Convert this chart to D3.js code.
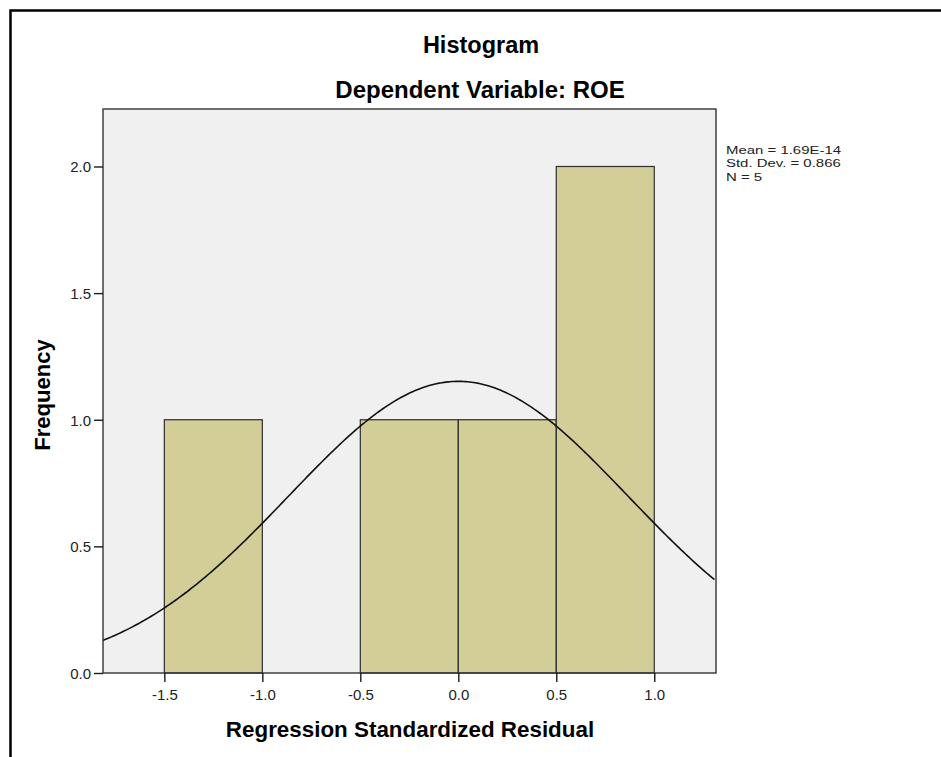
<!DOCTYPE html>
<html>
<head>
<meta charset="utf-8">
<script src="https://cdn.jsdelivr.net/npm/d3@7"></script>
<style>
  body { margin: 0; background: #fff; }
  svg { display: block; font-family: "Liberation Sans", Arial, sans-serif; }
</style>
</head>
<body>
<svg id="chart" width="941" height="757"></svg>
<script>
// bins of the regression standardized residual
const binStarts = [-1.5, -1.0, -0.5, 0.0, 0.5];
const binWidth = 0.5;
const counts = [1, 0, 1, 1, 2];

const xTicks = [-1.5, -1.0, -0.5, 0.0, 0.5, 1.0];
const yTicks = [0.0, 0.5, 1.0, 1.5, 2.0];

const stats = {mean: 1.69e-14, sd: 0.866, n: 5};
const legendLines = ["Mean = 1.69E-14", "Std. Dev. = 0.866", "N = 5"];

const svg = d3.select("#chart");

// outer frame of the output viewer
svg.append("path")
    .attr("d", "M10.5,757 V10.5 H941")
    .attr("fill", "none")
    .attr("stroke", "#000")
    .attr("stroke-width", 2.5);

const plot = {left: 103, top: 109, right: 716, bottom: 673};

const x = d3.scaleLinear().domain([-1.813, 1.315]).range([plot.left, plot.right]);
const y = d3.scaleLinear().domain([0, 2.227]).range([plot.bottom, plot.top]);

svg.append("rect")
    .attr("x", plot.left)
    .attr("y", plot.top)
    .attr("width", plot.right - plot.left)
    .attr("height", plot.bottom - plot.top)
    .attr("fill", "#f0f0f0");

const bins = binStarts.map((s, i) => ({x0: s, x1: s + binWidth, n: counts[i]}));

svg.append("g")
    .selectAll("rect")
    .data(bins.filter(d => d.n > 0))
    .join("rect")
    .attr("x", d => x(d.x0))
    .attr("y", d => y(d.n))
    .attr("width", d => x(d.x1) - x(d.x0))
    .attr("height", d => y(0) - y(d.n))
    .attr("fill", "#d3ce97")
    .attr("stroke", "#2e2e2e")
    .attr("stroke-width", 1.2);

// normal curve scaled to the counts
const density = v => stats.n * binWidth / (stats.sd * Math.sqrt(2 * Math.PI))
    * Math.exp(-0.5 * Math.pow((v - stats.mean) / stats.sd, 2));
const curvePts = d3.range(x.domain()[0], x.domain()[1] + 0.001, 0.01);

svg.append("path")
    .datum(curvePts)
    .attr("fill", "none")
    .attr("stroke", "#111")
    .attr("stroke-width", 1.6)
    .attr("d", d3.line().x(d => x(d)).y(d => y(density(d))));

svg.append("rect")
    .attr("x", plot.left)
    .attr("y", plot.top)
    .attr("width", plot.right - plot.left)
    .attr("height", plot.bottom - plot.top)
    .attr("fill", "none")
    .attr("stroke", "#333")
    .attr("stroke-width", 1.4);

const fmt = d => d3.format(".1f")(d).replace("−", "-");

const xAxis = svg.append("g")
    .attr("transform", `translate(0,${plot.bottom})`)
    .call(d3.axisBottom(x).tickValues(xTicks).tickFormat(fmt).tickSize(9).tickSizeOuter(0));

const yAxis = svg.append("g")
    .attr("transform", `translate(${plot.left},0)`)
    .call(d3.axisLeft(y).tickValues(yTicks).tickFormat(fmt).tickSize(9).tickSizeOuter(0));

[xAxis, yAxis].forEach(a => {
    a.attr("font-size", null).attr("font-family", null);
    a.select(".domain").remove();
    a.selectAll("line").attr("stroke", "#1a1a1a").attr("stroke-width", 1.4);
    a.selectAll("text")
        .style("font-family", "'Liberation Sans', Arial, sans-serif")
        .style("font-size", "15px")
        .attr("fill", "#222");
});
xAxis.selectAll("text").attr("y", 16).attr("dy", "0.71em");
yAxis.selectAll("text").attr("x", -12).attr("dy", "0.36em");

// titles
svg.append("text")
    .attr("x", 481).attr("y", 53)
    .attr("text-anchor", "middle")
    .attr("font-size", 23.5).attr("font-weight", "bold")
    .text("Histogram");

svg.append("text")
    .attr("x", 480).attr("y", 98)
    .attr("text-anchor", "middle")
    .attr("font-size", 24).attr("font-weight", "bold")
    .text("Dependent Variable: ROE");

svg.append("text")
    .attr("x", 410).attr("y", 737)
    .attr("text-anchor", "middle")
    .attr("font-size", 22.4).attr("font-weight", "bold")
    .text("Regression Standardized Residual");

svg.append("text")
    .attr("transform", "translate(50,395) rotate(-90)")
    .attr("text-anchor", "middle")
    .attr("font-size", 22).attr("font-weight", "bold")
    .text("Frequency");

// legend, stretched sideways like the SPSS text box
svg.append("g")
    .attr("transform", "translate(726,0) scale(1.3,1)")
    .selectAll("text")
    .data(legendLines)
    .join("text")
    .attr("x", 0)
    .attr("y", (d, i) => 154 + i * 13.5)
    .attr("font-size", 11.5)
    .attr("fill", "#222")
    .text(d => d);
</script>
</body>
</html>
